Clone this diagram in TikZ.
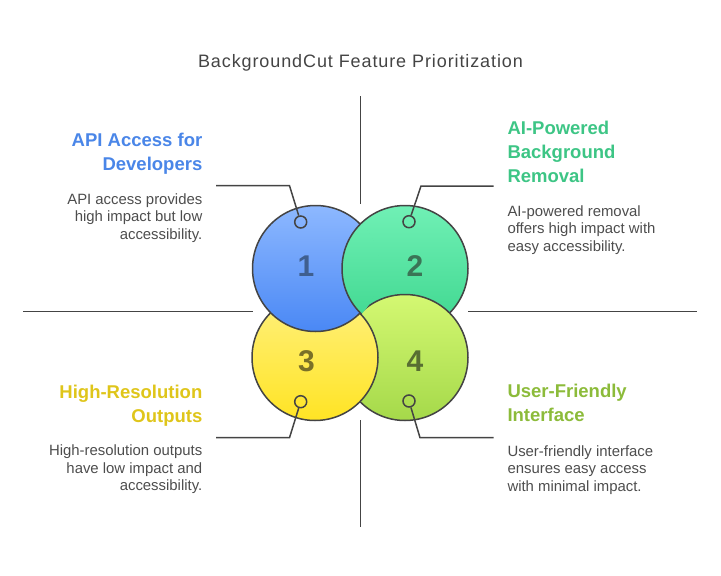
\documentclass[tikz,border=0pt]{standalone}
\usepackage{fontspec}
\setmainfont{Liberation Sans}
\newfontfamily\titlefont[LetterSpace=5]{Liberation Sans}
\definecolor{edge}{HTML}{444444}
\definecolor{bodytext}{HTML}{4D4D4D}
\definecolor{hblue}{HTML}{4A86E8}
\definecolor{hgreen}{HTML}{3DC585}
\definecolor{hyellow}{HTML}{DFC51A}
\definecolor{hlime}{HTML}{8CBB3A}
\definecolor{aT}{HTML}{8DB8FF}\definecolor{aB}{HTML}{4A88F5}
\definecolor{bT}{HTML}{70F0B5}\definecolor{bB}{HTML}{3DD68E}
\definecolor{cT}{HTML}{FFF07E}\definecolor{cB}{HTML}{FFE424}
\definecolor{dT}{HTML}{D4F872}\definecolor{dB}{HTML}{A5D94A}
\definecolor{nA}{HTML}{3F5F8F}\definecolor{nB}{HTML}{3B7456}
\definecolor{nC}{HTML}{7A7028}\definecolor{nD}{HTML}{586E32}
\begin{document}
\begin{tikzpicture}[x=1pt,y=-1pt,
  bigc/.style={circle, inner sep=0pt, minimum size=126pt, draw=edge, line width=1.5pt},
  num/.style={anchor=base, font=\fontsize{30}{30}\selectfont\bfseries},
  dotc/.style={circle, inner sep=0pt, minimum size=12pt, draw=edge, line width=1.5pt},
  lead/.style={draw=edge, line width=1.5pt},
  axisl/.style={draw=edge, line width=1.5pt},
  headR/.style={anchor=base east, align=right, inner sep=0pt, font=\fontsize{18.5}{24}\selectfont\bfseries},
  headL/.style={anchor=base west, align=left, inner sep=0pt, font=\fontsize{18.5}{24}\selectfont\bfseries},
  bodyR/.style={anchor=base east, align=right, inner sep=0pt, text=bodytext, font=\fontsize{14.9}{17.6}\selectfont},
  bodyL/.style={anchor=base west, align=left, inner sep=0pt, text=bodytext, font=\fontsize{14.9}{17.6}\selectfont}]
\useasboundingbox (0,0) rectangle (721,576);

% title
\node[anchor=base, text=edge, font=\titlefont\fontsize{18}{20}\selectfont, inner sep=0pt] (title) at (360.5,67.7) {BackgroundCut Feature Prioritization};

% axis lines
\coordinate (vt1) at (360.5,96); \coordinate (vt2) at (360.5,204);
\coordinate (vb1) at (360.5,420); \coordinate (vb2) at (360.5,527);
\coordinate (hl1) at (23,311.7); \coordinate (hl2) at (253,311.7);
\coordinate (hr1) at (468,311.7); \coordinate (hr2) at (697,311.7);
\draw[axisl] (vt1) -- (vt2);
\draw[axisl] (vb1) -- (vb2);
\draw[axisl] (hl1) -- (hl2);
\draw[axisl] (hr1) -- (hr2);

% circles: order 2,4,3,1 then 2 over 1
\node[bigc, top color=bT, bottom color=bB] (c2) at (405,268.5) {};
\node[bigc, top color=dT, bottom color=dB] (c4) at (405,357.5) {};
\node[bigc, top color=cT, bottom color=cB] (c3) at (315,357.5) {};
\node[bigc, top color=aT, bottom color=aB] (c1) at (315.5,268.5) {};
\begin{scope}
  \clip (c1.center) circle (64.6pt);
  \path[top color=bT, bottom color=bB, draw=edge, line width=1.5pt] (c2.center) circle (63pt);
\end{scope}

% numbers
\node[num, text=nA] (n1) at (306,276.7) {1};
\node[num, text=nB] (n2) at (415,276.7) {2};
\node[num, text=nC] (n3) at (306.5,371.7) {3};
\node[num, text=nD] (n4) at (415,371.7) {4};

% leader dots and lines
\node[dotc] (d1) at (300.7,222) {};
\node[dotc] (d2) at (409,221.7) {};
\node[dotc] (d3) at (300.7,401.7) {};
\node[dotc] (d4) at (409,401) {};
\coordinate (k1) at (289.5,185.7); \coordinate (e1) at (216,185.7);
\coordinate (k2) at (421,186); \coordinate (e2) at (493.5,186);
\coordinate (k3) at (289.5,437.7); \coordinate (e3) at (216,437.7);
\coordinate (k4) at (420,437.7); \coordinate (e4) at (493.5,437.7);
\draw[lead] (d1) -- (k1) -- (e1);
\draw[lead] (d2) -- (k2) -- (e2);
\draw[lead] (d3) -- (k3) -- (e3);
\draw[lead] (d4) -- (k4) -- (e4);

% texts (anchor = baseline of the last line)
\node[headR, text=hblue] (h1) at (202.5,170.7) {API Access for\\Developers};
\node[bodyR] (b1) at (202.5,239.2) {API access provides\\high impact but low\\accessibility.};

\node[headL, text=hgreen] (h2) at (507.3,182) {AI-Powered\\Background\\Removal};
\node[bodyL] (b2) at (507.3,251.2) {AI-powered removal\\offers high impact with\\easy accessibility.};

\node[headR, text=hyellow] (h3) at (202.5,422.3) {High-Resolution\\Outputs};
\node[bodyR] (b3) at (202.5,490.9) {High-resolution outputs\\have low impact and\\accessibility.};

\node[headL, text=hlime] (h4) at (507.3,421.5) {User-Friendly\\Interface};
\node[bodyL] (b4) at (507.3,491.2) {User-friendly interface\\ensures easy access\\with minimal impact.};
\end{tikzpicture}
\end{document}
